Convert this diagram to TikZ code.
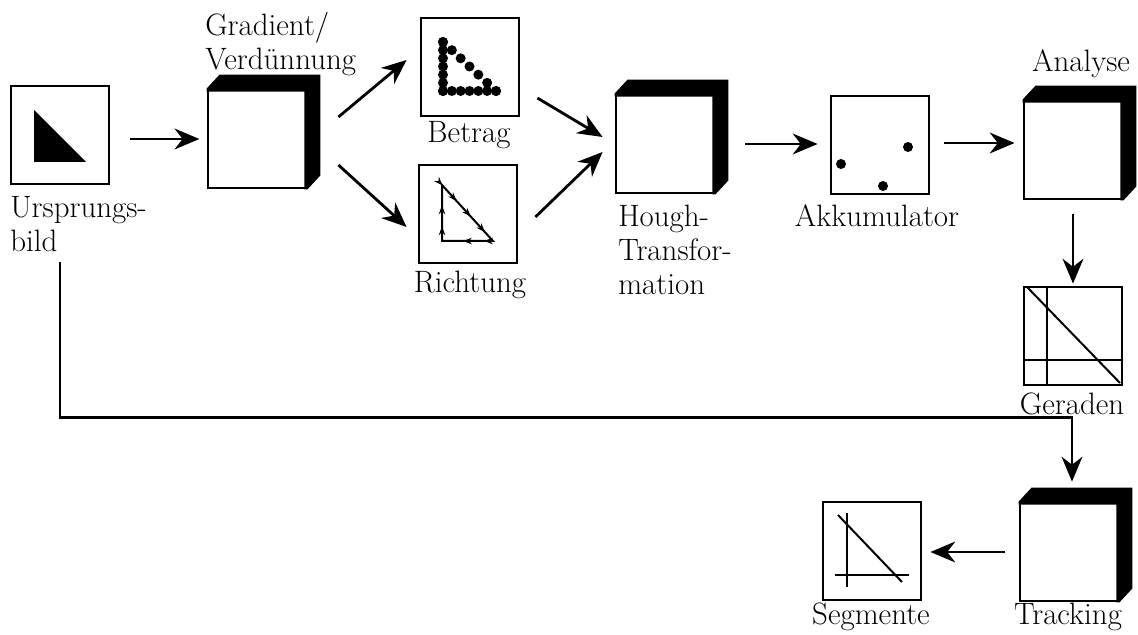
\documentclass[tikz,border=0pt]{standalone}
\usepackage{tikz}
\usetikzlibrary{arrows.meta}
\usetikzlibrary{calc}
\usetikzlibrary{decorations.markings}
\usetikzlibrary{positioning}

\begin{document}
\begin{tikzpicture}
[
	x = 0.025cm, y = -0.025cm,
	img/.style	= {rectangle, draw = black, fill = white, line width = 0.07cm, minimum width = 2.45cm, minimum height = 2.45cm, inner sep = 0cm},
	proc/.style	= {img},
	txt/.style	= {font = \fontsize{22}{24}\selectfont, inner sep = 0cm, align = left},
	arr/.style	= {-{Stealth[length = 0.62cm, width = 0.52cm, inset = 0.2cm]}, line width = 0.07cm},
	thin/.style	= {line width = 0.05cm},
]

	\useasboundingbox (0,0) rectangle (1138,635);

	\node (orig)	[img]	at (60,135) {};
	\node (grad)	[proc]	at (257,139) {};
	\node (betrag)	[img]	at (470,67) {};
	\node (richt)	[img]	at (468,214) {};
	\node (hough)	[proc]	at (665,144) {};
	\node (akku)	[img]	at (880,145) {};
	\node (analyse)	[proc]	at (1073,150) {};
	\node (geraden)	[img]	at (1073,336) {};
	\node (track)	[proc]	at (1069,552) {};
	\node (segm)	[img]	at (872,551) {};

	% shadow of the process boxes
	\foreach \n in {grad, hough, analyse, track}
		\fill (\n.north west) -- ++(13,-14) -- ($(\n.north east)+(13,-14)$) -- ($(\n.south east)+(13,-14)$) -- (\n.south east)
			-- ($(\n.south east)+(-3,0)$) -- ($(\n.north east)+(-3,3)$) -- ($(\n.north west)+(0,3)$) -- cycle;

	% contents
	\fill [shift = {(orig.center)}] (-26,-25) -- (-26,27) -- (26,27) -- cycle;
	\begin{scope}[shift = {(betrag.center)}]
		\foreach \t in {0, 0.167, 0.333, 0.5, 0.667, 0.833, 1} {
			\fill (-27,-25+49*\t) circle (5);
			\fill (-27+53*\t,24) circle (5);
			\fill (-27+53*\t,-25+49*\t) circle (5);
		}
	\end{scope}
	\draw [shift = {(richt.center)}, thin, postaction = {decorate}, decoration = {markings, mark = between positions 0.08 and 0.97 step 0.115 with {\arrow{Stealth[length = 0.22cm, width = 0.16cm]}}}] (-26,27) -- (-26,-29) -- (25,27) -- cycle;
	\begin{scope}[shift = {(akku.center)}]
		\fill (-39,19) circle (5);
		\fill (28,2) circle (5);
		\fill (3,41) circle (5);
	\end{scope}
	\begin{scope}[shift = {(geraden.center)}, thin]
		\draw (-26,-49) -- (-26,49);
		\draw (-50,24) -- (50,24);
		\draw (-46,-49) -- (47,47);
	\end{scope}
	\begin{scope}[shift = {(segm.center)}, thin]
		\draw (-25,-38) -- (-25,36);
		\draw (-37,24) -- (37,24);
		\draw (-34,-36) -- (30,31);
	\end{scope}

	% labels
	\node (origtxt)		[txt, anchor = north west]	at (10,196) {Ursprungs-\\bild};
	\node (gradtxt)		[txt, anchor = north west]	at (205,12) {Gradient/\\Verdünnung};
	\node (betragtxt)	[txt, anchor = base]		at (469,143) {Betrag};
	\node (richttxt)	[txt, anchor = base]		at (470,293) {Richtung};
	\node (houghtxt)	[txt, anchor = north west]	at (618,205) {Hough-\\Transfor-\\mation};
	\node (akkutxt)		[txt, anchor = base]		at (877,227) {Akkumulator};
	\node (analysetxt)	[txt, anchor = base]		at (1081,72) {Analyse};
	\node (geradentxt)	[txt, anchor = base]		at (1072,415) {Geraden};
	\node (segmtxt)		[txt, anchor = base]		at (871,624) {Segmente};
	\node (tracktxt)	[txt, anchor = base]		at (1068,624) {Tracking};

	% connectors
	\draw [arr, shorten < = 0.5cm, shorten > = 0.18cm] (orig.east |- grad.west) -- (grad.west);
	\draw [arr] ([shift = {(31,-22)}]grad.east) -- ([shift = {(-13,-7)}]betrag.west);
	\draw [arr] ([shift = {(31,26)}]grad.east) -- ([shift = {(-11,13)}]richt.west);
	\draw [arr] ([shift = {(17,31)}]betrag.east) -- ([shift = {(-12,-7)}]hough.west);
	\draw [arr] ([shift = {(17,3)}]richt.east) -- ([shift = {(-12,8)}]hough.west);
	\draw [arr, shorten < = 0.75cm, shorten > = 0.3cm] (hough.east) -- (hough.east -| akku.west);
	\draw [arr, shorten < = 0.35cm, shorten > = 0.2cm] ([shift = {(0,-2)}]akku.east) -- ([shift = {(0,-2)}]akku.east -| analyse.west);
	\draw [arr, shorten < = 0.33cm, shorten > = 0.05cm] (analyse) -- (geraden);
	\draw [arr] ([shift = {(0,77)}]orig.south) |- ([shift = {(3,-84)}]track.north) -- ([shift = {(3,-20)}]track.north);
	\draw [arr, shorten < = 0.33cm, shorten > = 0.2cm] (track.west) -- (track.west -| segm.east);

\end{tikzpicture}
\end{document}
